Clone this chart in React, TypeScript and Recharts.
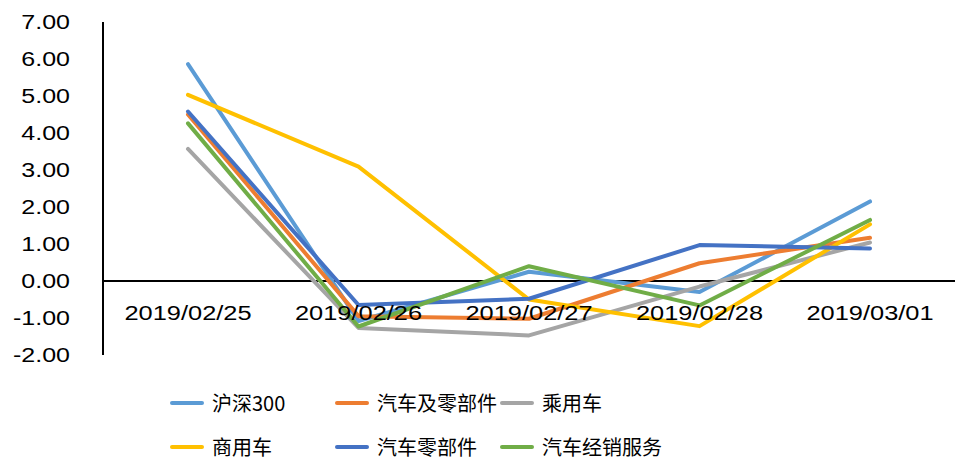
import { Line, LineChart, ReferenceLine, XAxis, YAxis } from "recharts"

const dates = ["2019/02/25", "2019/02/26", "2019/02/27", "2019/02/28", "2019/03/01"]

const hs300 = [5.86, -1.08, 0.25, -0.3, 2.15]
const autoAndParts = [4.5, -0.95, -1.02, 0.48, 1.17]
const passengerCars = [3.57, -1.27, -1.47, -0.15, 1.04]
const commercialCars = [5.03, 3.09, -0.5, -1.22, 1.53]
const autoParts = [4.58, -0.65, -0.48, 0.97, 0.88]
const dealerServices = [4.26, -1.23, 0.4, -0.66, 1.65]

const yTicks = [-2, -1, 0, 1, 2, 3, 4, 5, 6, 7]

const series = [
  { key: "hs300", name: "沪深300", color: "#5B9BD5", values: hs300 },
  { key: "autoAndParts", name: "汽车及零部件", color: "#ED7D31", values: autoAndParts },
  { key: "passengerCars", name: "乘用车", color: "#A5A5A5", values: passengerCars },
  { key: "commercialCars", name: "商用车", color: "#FFC000", values: commercialCars },
  { key: "autoParts", name: "汽车零部件", color: "#4472C4", values: autoParts },
  { key: "dealerServices", name: "汽车经销服务", color: "#70AD47", values: dealerServices },
]

const chartData = dates.map((date, i) => {
  const row: Record<string, string | number> = { date }
  series.forEach((s) => {
    row[s.key] = s.values[i]
  })
  return row
})

const FONT = "'Liberation Sans', Arial, sans-serif"

// the source picture is stretched sideways, so the digits are widened a bit
function YTick({ x, y, payload }: any) {
  return (
    <g transform={`translate(${x - 25},${y}) scale(1.25,1)`}>
      <text x={0} y={0} dy={7} textAnchor="end" fontFamily={FONT} fontSize={20} fill="#000">
        {Number(payload.value).toFixed(2)}
      </text>
    </g>
  )
}

// labels sit just under the zero line, not at the bottom of the plot
function XTick({ x, y, payload }: any) {
  return (
    <g transform={`translate(${x},${y - 50}) scale(1.27,1)`}>
      <text x={0} y={0} dy={7} textAnchor="middle" fontFamily={FONT} fontSize={20} fill="#000">
        {payload.value}
      </text>
    </g>
  )
}

export default function App() {
  return (
    <div style={{ position: "absolute", left: 0, top: 0, width: 959, height: 461, background: "#fff" }}>
      <LineChart width={959} height={461} data={chartData} margin={{ top: 22, right: 4, left: 0, bottom: 76 }}>
        <XAxis
          dataKey="date"
          axisLine={false}
          tickLine={false}
          tick={<XTick />}
          height={30}
          interval={0}
          padding={{ left: 85, right: 85 }}
        />
        <YAxis
          domain={[-2, 7]}
          ticks={yTicks}
          width={103}
          axisLine={{ stroke: "#000", strokeWidth: 2 }}
          tickLine={false}
          tick={<YTick />}
        />
        <ReferenceLine y={0} stroke="#000" strokeWidth={2} />
        {series.map((s) => (
          <Line
            key={s.key}
            dataKey={s.key}
            name={s.name}
            stroke={s.color}
            strokeWidth={4}
            strokeLinecap="round"
            strokeLinejoin="round"
            dot={false}
            type="linear"
            isAnimationActive={false}
          />
        ))}
      </LineChart>

      {/* legend, 3 per row */}
      {series.map((s, i) => (
        <div
          key={s.key}
          style={{
            position: "absolute",
            left: 170 + (i % 3) * 165,
            top: 390 + Math.floor(i / 3) * 44,
            height: 26,
            display: "flex",
            alignItems: "center",
            whiteSpace: "nowrap",
          }}
        >
          <div style={{ width: 34, height: 4, borderRadius: 2, background: s.color }} />
          <span
            style={{
              marginLeft: 8,
              fontFamily: "'Noto Sans CJK SC', sans-serif",
              fontSize: 20,
              lineHeight: "26px",
              color: "#000",
            }}
          >
            {s.name}
          </span>
        </div>
      ))}
    </div>
  )
}
